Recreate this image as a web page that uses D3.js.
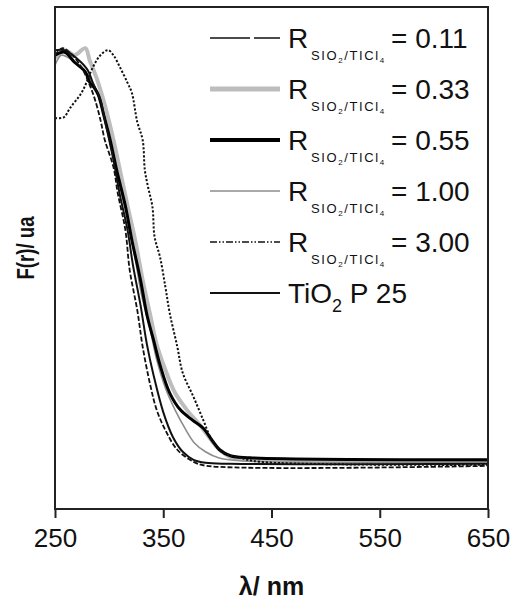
<!DOCTYPE html>
<html><head><meta charset="utf-8">
<script src="https://cdn.jsdelivr.net/npm/d3@7"></script>
<style>body{margin:0;background:#fff}svg{display:block}text{font-family:"Liberation Sans",Arial,sans-serif;fill:#111}</style>
</head><body><svg id="c" width="516" height="601"></svg>
<script>
// wavelength (nm) / F(r) (arbitrary units, 0-100) pairs
const wl011 = [250,257,266,275,282,287,292,296,304,308,315,319,326,331,338,344,352,363,378,390,650];
const v011  = [90.4,91.8,90.4,87.8,84.5,81.5,77.5,73.5,68.1,62.9,55.6,47.6,39.6,32.3,24.7,19.7,15.7,11.8,9.4,8.6,8.6];
const wl033 = [250,259,268,278,282,289,296,304,310,317,324,331,338,344,352,361,372,384,393,402,414,439,650];
const v033  = [89.8,91.4,90.4,91.8,89.4,85.5,80.5,73.5,67.5,60.4,53.6,45.6,38.6,32.7,27.7,23.1,19.7,16.7,14.1,11.8,10.2,9.8,9.6];
const wl055 = [250,259,268,278,282,286,290,295,301,307,315,321,329,335,341,347,356,366,377,387,395,402,412,430,650];
const v055  = [90.4,91.0,89.0,87.1,85.0,84.0,82.5,78.5,73.5,67.5,60.4,53.6,45.6,38.6,33.7,28.7,23.1,19.7,17.7,16.1,13.7,11.8,10.6,10.2,9.8];
const wl100 = [250,256,266,275,282,290,296,303,310,317,324,330,338,344,352,361,370,379,389,401,421,650];
const v100  = [88.4,90.4,89.4,87.8,85.9,82.5,77.9,71.5,64.5,57.6,50.0,42.6,35.7,29.7,24.1,19.7,16.1,13.1,11.4,10.2,9.6,9.4];
const wl300 = [250,258,264,275,285,292,299,304,310,317,321,326,331,333,336,340,342,347,352,356,363,368,378,387,395,405,421,439,650];
const v300  = [77.9,78.0,79.9,83.1,88.0,90.4,91.4,90.4,88.0,84.9,82.9,77.1,73.5,67.5,64.1,60.2,54.2,50.2,44.2,39.0,32.3,27.1,22.3,17.7,13.7,11.2,10.2,9.4,8.8];
const wlP25 = [250,259,270,280,285,292,296,304,310,317,322,329,335,341,350,359,368,378,389,412,650];
const vP25  = [91.4,91.4,89.8,87.5,84.9,81.5,77.5,69.5,62.5,55.6,48.6,40.6,32.7,26.7,19.3,14.3,11.4,9.8,9.2,9.0,9.0];
const xTicks = [250,350,450,550,650];
const seriesNames = ["0.11","0.33","0.55","1.00","3.00","P25"];

const styles = {
  "0.11":{stroke:"#111",width:1.6,dash:"40,4"},
  "0.33":{stroke:"#bdbdbd",width:5,dash:null},
  "0.55":{stroke:"#000",width:4,dash:null},
  "1.00":{stroke:"#8c8c8c",width:1.6,dash:null},
  "3.00":{stroke:"#111",width:1.6,dash:"7,2,1.5,2,1.5,2"},
  "P25":{stroke:"#111",width:2,dash:null}
};
const curveData = {
  "0.11":d3.zip(wl011,v011), "0.33":d3.zip(wl033,v033), "0.55":d3.zip(wl055,v055),
  "1.00":d3.zip(wl100,v100), "3.00":d3.zip(wl300,v300), "P25":d3.zip(wlP25,vP25)
};
const plotStyles = {
  "0.11":{dash:"5,2",width:1.8}, "3.00":{dash:"2.2,1.8",width:2}, "0.33":{width:4}, "0.55":{width:3}
};

const L=55,R=488,T=7,B=509;
const svg=d3.select("#c");
const x=d3.scaleLinear().domain([250,650]).range([L,R]);
const y=d3.scaleLinear().domain([0,100]).range([B,T]);

svg.append("clipPath").attr("id","clip").append("rect").attr("x",L).attr("y",T).attr("width",R-L).attr("height",B-T);

const line=d3.line().x(d=>x(d[0])).y(d=>y(d[1])).curve(d3.curveCatmullRom.alpha(0.5));
const g=svg.append("g").attr("clip-path","url(#clip)");
["0.33","1.00","0.55","P25","0.11","3.00"].forEach(k=>{
  const s=styles[k], p=plotStyles[k]||{};
  g.append("path").datum(curveData[k]).attr("d",line)
    .attr("fill","none").attr("stroke",s.stroke)
    .attr("stroke-width", p.width||s.width)
    .attr("stroke-dasharray", p.dash||null)
    .attr("stroke-linejoin","round");
});

// frame
svg.append("rect").attr("x",L).attr("y",T).attr("width",R-L).attr("height",B-T)
  .attr("fill","none").attr("stroke","#222").attr("stroke-width",2);

// x axis
const ax=svg.append("g").attr("transform",`translate(0,${B})`)
  .call(d3.axisBottom(x).tickValues(xTicks).tickSize(9).tickPadding(11).tickFormat(d3.format("d")));
ax.select(".domain").remove();
ax.selectAll("line").attr("stroke","#222").attr("stroke-width",2);
ax.selectAll("text").attr("font-size",26).attr("fill","#111").attr("font-family","Liberation Sans, Arial, sans-serif");

svg.append("text").attr("x",(L+R)/2).attr("y",595).attr("text-anchor","middle")
  .attr("font-size",25).attr("font-weight","bold").text("λ/ nm");
svg.append("text").attr("transform","translate(34,248) rotate(-90)").attr("text-anchor","middle")
  .attr("font-size",23).attr("font-weight","bold").attr("textLength",63).attr("lengthAdjust","spacingAndGlyphs").text("F(r)/ ua");

// legend
seriesNames.forEach((k,i)=>{
  const cy=38+i*51, s=styles[k];
  svg.append("line").attr("x1",210).attr("x2",280).attr("y1",cy).attr("y2",cy)
    .attr("stroke",s.stroke).attr("stroke-width",s.width).attr("stroke-dasharray",s.dash);
  if(k!=="P25"){
    svg.append("text").attr("x",288).attr("y",cy+10).attr("font-size",28).text("R");
    const sub=svg.append("text").attr("x",311).attr("y",cy+22).attr("font-size",13).attr("letter-spacing",1.6);
    sub.append("tspan").text("SIO");
    sub.append("tspan").attr("font-size",8).attr("dy",3).text("2");
    sub.append("tspan").attr("dy",-3).text("/TICl");
    sub.append("tspan").attr("font-size",8).attr("dy",3).text("4");
    svg.append("text").attr("x",391).attr("y",cy+10).attr("font-size",28).text("= "+k);
  } else {
    const t=svg.append("text").attr("x",288).attr("y",cy+10).attr("font-size",28);
    t.append("tspan").text("TiO");
    t.append("tspan").attr("font-size",18).attr("dy",9).text("2");
    t.append("tspan").attr("dy",-9).text(" P 25");
  }
});
</script></body></html>
